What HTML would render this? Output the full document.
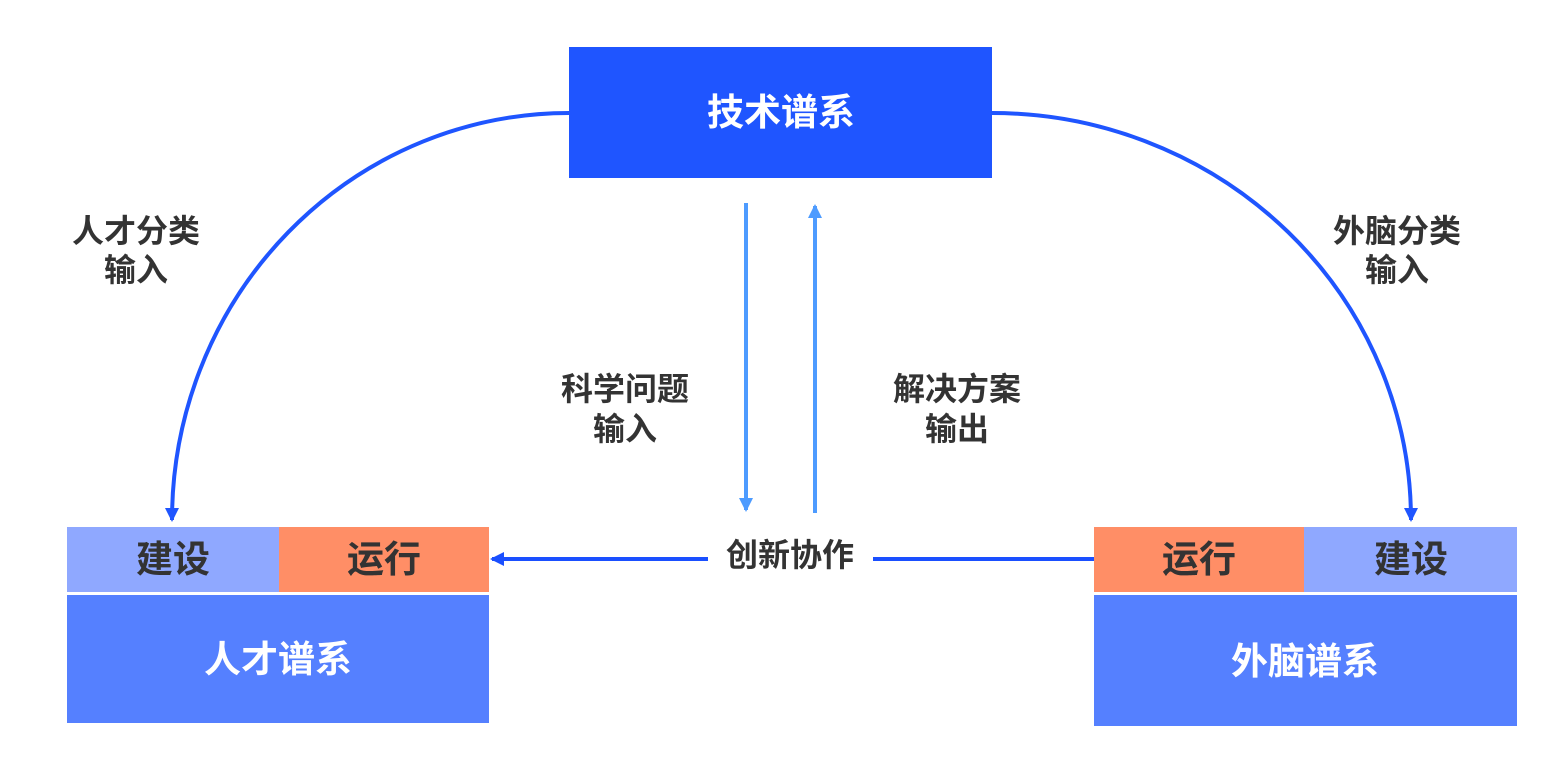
<!DOCTYPE html>
<html><head><meta charset="utf-8"><style>
html,body{margin:0;padding:0;background:#fff;}
svg{display:block;}
text{font-family:"Liberation Sans","Noto Sans CJK SC",sans-serif;font-weight:bold;}
</style></head><body>
<svg width="1563" height="774" viewBox="0 0 1563 774" xmlns="http://www.w3.org/2000/svg">
<defs>
<marker id="ab" markerWidth="14" markerHeight="14" refX="12" refY="7" orient="auto" markerUnits="userSpaceOnUse"><path d="M0,0 L14,7 L0,14 Z" fill="#1f55ff"/></marker>
<marker id="al" markerWidth="14" markerHeight="14" refX="12" refY="7" orient="auto" markerUnits="userSpaceOnUse"><path d="M0,0 L14,7 L0,14 Z" fill="#4d9bff"/></marker>
<marker id="ah" markerWidth="14" markerHeight="14" refX="12" refY="7" orient="auto" markerUnits="userSpaceOnUse"><path d="M0,0 L14,7 L0,14 Z" fill="#1a4fff"/></marker>
</defs>
<rect x="569" y="47" width="423" height="131" fill="#1f55ff"/>
<text x="781" y="125" font-size="37" fill="#fff" text-anchor="middle">技术谱系</text>

<path d="M569,113 A397,407 0 0 0 172,520" fill="none" stroke="#1f55ff" stroke-width="4" marker-end="url(#ab)"/>
<path d="M992,113 A419,407 0 0 1 1411,520" fill="none" stroke="#1f55ff" stroke-width="4" marker-end="url(#ab)"/>

<line x1="746" y1="203" x2="746" y2="510" stroke="#4d9bff" stroke-width="4" marker-end="url(#al)"/>
<line x1="815" y1="513" x2="815" y2="206" stroke="#4d9bff" stroke-width="4" marker-end="url(#al)"/>

<line x1="708" y1="559" x2="492" y2="559" stroke="#1a4fff" stroke-width="4" marker-end="url(#ah)"/>
<line x1="873" y1="559" x2="1094" y2="559" stroke="#1a4fff" stroke-width="4"/>

<rect x="67" y="527" width="212" height="65" fill="#8fa8ff"/>
<rect x="279" y="527" width="210" height="65" fill="#ff8e66"/>
<rect x="67" y="595" width="422" height="128" fill="#5580ff"/>
<text x="173" y="572" font-size="37" fill="#333" text-anchor="middle">建设</text>
<text x="384" y="572" font-size="37" fill="#333" text-anchor="middle">运行</text>
<text x="278" y="672" font-size="37" fill="#fff" text-anchor="middle">人才谱系</text>

<rect x="1094" y="527" width="210" height="65" fill="#ff8e66"/>
<rect x="1304" y="527" width="213" height="65" fill="#8fa8ff"/>
<rect x="1094" y="595" width="423" height="131" fill="#5580ff"/>
<text x="1199" y="572" font-size="37" fill="#333" text-anchor="middle">运行</text>
<text x="1411" y="572" font-size="37" fill="#333" text-anchor="middle">建设</text>
<text x="1305" y="674" font-size="37" fill="#fff" text-anchor="middle">外脑谱系</text>

<g font-size="32" fill="#333" text-anchor="middle">
<text x="136" y="242">人才分类</text><text x="136" y="281">输入</text>
<text x="1397" y="242">外脑分类</text><text x="1397" y="281">输入</text>
<text x="625" y="400">科学问题</text><text x="625" y="440">输入</text>
<text x="957" y="400">解决方案</text><text x="957" y="440">输出</text>
<text x="790" y="566">创新协作</text>
</g>
</svg>
</body></html>
